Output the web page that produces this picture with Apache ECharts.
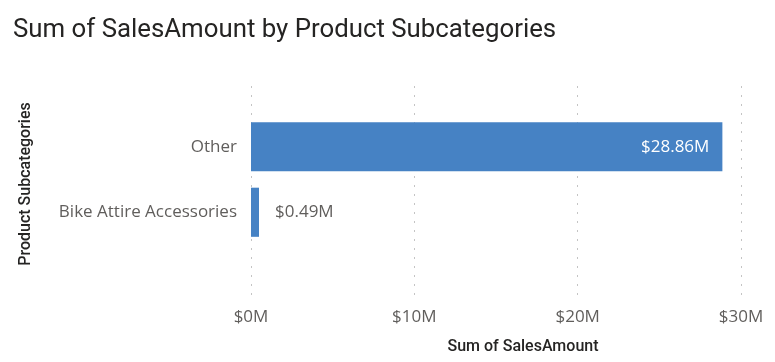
<!DOCTYPE html>
<html><head><meta charset="utf-8">
<script src="https://cdn.jsdelivr.net/npm/echarts@6/dist/echarts.min.js"></script>
<style>html,body{margin:0;padding:0;background:#fff}#c{width:775px;height:362px}</style>
</head><body><div id="c"></div>
<script>
const categories = ["Other", "Bike Attire Accessories"];
const salesValues = [28860000, 490000];
const tickValues = [0, 10000000, 20000000, 30000000];
const tickLabels = ["$0M", "$10M", "$20M", "$30M"];

const axMin = tickValues[0], axMax = tickValues[tickValues.length - 1], axInt = tickValues[1] - tickValues[0];
const chart = echarts.init(document.getElementById('c'), null, {renderer: 'canvas'});
const labelFont = "'Segoe UI', 'Open Sans', sans-serif";
const headFont = "'DIN', Roboto, sans-serif";
chart.setOption({
  animation: false,
  title: {
    text: 'Sum of SalesAmount by Product Subcategories',
    left: 8, top: 13,
    textStyle: {fontFamily: headFont, fontSize: 25.8, fontWeight: 'normal', color: '#252423'}
  },
  grid: [
    {left: 251, right: 34, top: 86, bottom: 62},
    {left: 251, right: 34, top: 114, height: 131}
  ],
  xAxis: [
    {
      gridIndex: 0, type: 'value', min: axMin, max: axMax, interval: axInt,
      axisLine: {show: false}, axisTick: {show: false},
      splitLine: {show: true, lineStyle: {color: '#C4C4C4', width: 1, type: [2, 7]}},
      axisLabel: {
        margin: 9, fontFamily: labelFont, fontSize: 17, color: '#605E5C',
        formatter: v => tickLabels[tickValues.indexOf(v)]
      },
      name: 'Sum of SalesAmount', nameLocation: 'middle', nameGap: 39,
      nameTextStyle: {fontFamily: headFont, fontSize: 16, fontWeight: 500, color: '#252423', padding: [0, 0, 0, 54]}
    },
    {
      gridIndex: 1, type: 'value', min: axMin, max: axMax, interval: axInt,
      show: false
    }
  ],
  yAxis: [
    {gridIndex: 0, type: 'value', show: false},
    {
      gridIndex: 1, type: 'category', data: categories, inverse: true,
      axisLine: {show: false}, axisTick: {show: false},
      axisLabel: {margin: 14, fontFamily: labelFont, fontSize: 17, color: '#605E5C'},
      name: 'Product Subcategories', nameLocation: 'middle', nameGap: 217,
      nameTextStyle: {fontFamily: headFont, fontSize: 16, fontWeight: 500, color: '#252423', padding: [0, 9, 0, 0]}
    }
  ],
  series: [{
    type: 'bar', xAxisIndex: 1, yAxisIndex: 1,
    barCategoryGap: '25%',
    itemStyle: {color: '#4682C4'},
    data: salesValues.map((v, i) => ({
      value: v,
      label: i === 0
        ? {show: true, position: 'insideRight', distance: 13, color: '#FFFFFF'}
        : {show: true, position: 'right', distance: 16, color: '#605E5C'}
    })),
    label: {
      fontFamily: labelFont, fontSize: 17,
      formatter: p => '$' + (p.value / 1e6).toFixed(2) + 'M'
    }
  }]
});
</script></body></html>
